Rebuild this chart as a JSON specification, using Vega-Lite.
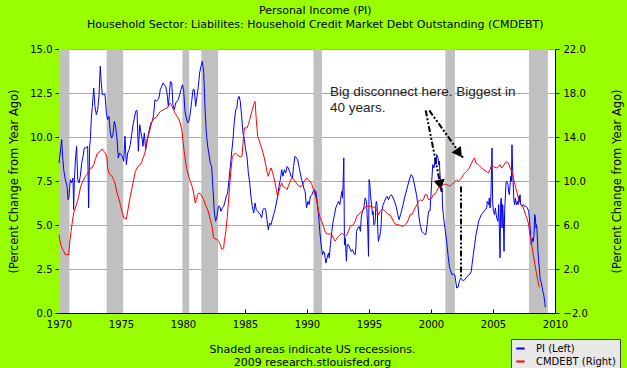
{
  "$schema": "https://vega.github.io/schema/vega-lite/v6.json",
  "width": 496,
  "height": 264,
  "autosize": {"type": "none"},
  "padding": {"left": 59, "top": 49, "right": 72, "bottom": 55},
  "background": "#99ff00",
  "config": {
    "view": {"stroke": null, "fill": "white"},
    "font": "DejaVu Sans",
    "axis": {"labelFont": "DejaVu Sans", "titleFont": "DejaVu Sans", "labelColor": "black", "titleColor": "black", "domainColor": "black", "tickColor": "black", "labelFontSize": 10, "titleFontWeight": "normal"}
  },
  "title": {
    "text": "Personal Income (PI)",
    "subtitle": "Household Sector: Liabilites: Household Credit Market Debt Outstanding (CMDEBT)",
    "font": "DejaVu Sans", "subtitleFont": "DejaVu Sans",
    "fontSize": 11, "subtitleFontSize": 11, "fontWeight": "normal",
    "color": "black", "subtitleColor": "black",
    "anchor": "middle", "frame": "bounds", "offset": 14, "subtitlePadding": 3
  },
  "datasets": {
    "rec": [
      {"s": 1970.0, "e": 1970.84},
      {"s": 1973.84, "e": 1975.18},
      {"s": 1979.95, "e": 1980.5},
      {"s": 1981.48, "e": 1982.83},
      {"s": 1990.52, "e": 1991.2},
      {"s": 2001.16, "e": 2001.93},
      {"s": 2007.9, "e": 2009.42}
    ],
    "pi": [
      {"t":1970.00,"v":8.52},{"t":1970.22,"v":9.85},{"t":1970.27,"v":9.09},{"t":1970.38,"v":8.14},{"t":1970.51,"v":7.58},{"t":1970.65,"v":7.20},{"t":1970.73,"v":6.44},{"t":1970.81,"v":6.63},{"t":1970.91,"v":7.58},{"t":1971.02,"v":7.39},{"t":1971.13,"v":7.67},{"t":1971.18,"v":5.87},{"t":1971.24,"v":7.58},{"t":1971.34,"v":8.90},{"t":1971.42,"v":9.47},{"t":1971.51,"v":7.58},{"t":1971.61,"v":7.39},{"t":1971.72,"v":7.77},{"t":1971.83,"v":8.52},{"t":1971.94,"v":8.90},{"t":1972.04,"v":9.38},{"t":1972.20,"v":9.38},{"t":1972.31,"v":9.47},{"t":1972.39,"v":5.97},{"t":1972.47,"v":9.47},{"t":1972.53,"v":9.85},{"t":1972.61,"v":11.08},{"t":1972.69,"v":11.74},{"t":1972.80,"v":12.78},{"t":1972.90,"v":11.74},{"t":1973.01,"v":11.27},{"t":1973.12,"v":11.55},{"t":1973.23,"v":12.41},{"t":1973.33,"v":14.02},{"t":1973.39,"v":13.26},{"t":1973.49,"v":12.41},{"t":1973.60,"v":12.41},{"t":1973.71,"v":12.41},{"t":1973.82,"v":11.36},{"t":1973.92,"v":10.98},{"t":1974.03,"v":11.17},{"t":1974.14,"v":10.23},{"t":1974.25,"v":9.94},{"t":1974.35,"v":10.13},{"t":1974.46,"v":10.89},{"t":1974.57,"v":10.61},{"t":1974.68,"v":9.85},{"t":1974.78,"v":8.81},{"t":1974.89,"v":9.09},{"t":1975.00,"v":9.00},{"t":1975.11,"v":8.90},{"t":1975.22,"v":8.62},{"t":1975.32,"v":10.04},{"t":1975.43,"v":8.43},{"t":1975.54,"v":9.09},{"t":1975.65,"v":9.28},{"t":1975.75,"v":9.56},{"t":1975.86,"v":10.13},{"t":1975.97,"v":10.70},{"t":1976.08,"v":11.08},{"t":1976.18,"v":11.46},{"t":1976.29,"v":11.52},{"t":1976.40,"v":9.19},{"t":1976.51,"v":10.70},{"t":1976.61,"v":10.23},{"t":1976.72,"v":9.85},{"t":1976.77,"v":9.47},{"t":1976.88,"v":10.23},{"t":1976.99,"v":9.28},{"t":1977.10,"v":9.75},{"t":1977.20,"v":10.13},{"t":1977.31,"v":10.51},{"t":1977.42,"v":10.80},{"t":1977.53,"v":10.89},{"t":1977.63,"v":11.27},{"t":1977.74,"v":12.12},{"t":1977.85,"v":12.03},{"t":1977.96,"v":12.12},{"t":1978.06,"v":12.22},{"t":1978.17,"v":12.69},{"t":1978.28,"v":12.88},{"t":1978.39,"v":13.07},{"t":1978.49,"v":12.97},{"t":1978.60,"v":12.88},{"t":1978.71,"v":12.50},{"t":1978.82,"v":11.74},{"t":1978.92,"v":12.59},{"t":1978.98,"v":13.16},{"t":1979.09,"v":13.07},{"t":1979.19,"v":11.84},{"t":1979.30,"v":11.55},{"t":1979.41,"v":11.93},{"t":1979.52,"v":12.03},{"t":1979.62,"v":12.12},{"t":1979.73,"v":12.41},{"t":1979.84,"v":12.69},{"t":1979.95,"v":12.97},{"t":1980.05,"v":12.69},{"t":1980.16,"v":11.46},{"t":1980.27,"v":11.08},{"t":1980.38,"v":10.80},{"t":1980.48,"v":10.89},{"t":1980.59,"v":11.36},{"t":1980.70,"v":12.03},{"t":1980.81,"v":12.69},{"t":1980.91,"v":12.69},{"t":1981.02,"v":11.74},{"t":1981.13,"v":12.31},{"t":1981.24,"v":12.88},{"t":1981.34,"v":13.64},{"t":1981.45,"v":14.02},{"t":1981.56,"v":14.30},{"t":1981.67,"v":13.64},{"t":1981.77,"v":11.74},{"t":1981.88,"v":10.23},{"t":1981.99,"v":9.47},{"t":1982.10,"v":9.00},{"t":1982.20,"v":8.52},{"t":1982.31,"v":8.33},{"t":1982.42,"v":7.01},{"t":1982.53,"v":5.68},{"t":1982.63,"v":5.21},{"t":1982.74,"v":5.49},{"t":1982.85,"v":6.06},{"t":1982.96,"v":6.06},{"t":1983.06,"v":5.78},{"t":1983.17,"v":5.97},{"t":1983.28,"v":6.06},{"t":1983.39,"v":6.34},{"t":1983.49,"v":6.63},{"t":1983.60,"v":6.82},{"t":1983.71,"v":7.58},{"t":1983.82,"v":8.33},{"t":1983.92,"v":9.09},{"t":1984.03,"v":9.85},{"t":1984.14,"v":10.89},{"t":1984.25,"v":11.55},{"t":1984.35,"v":11.65},{"t":1984.41,"v":12.12},{"t":1984.52,"v":12.31},{"t":1984.62,"v":12.03},{"t":1984.73,"v":11.17},{"t":1984.84,"v":10.23},{"t":1984.95,"v":9.85},{"t":1985.05,"v":9.28},{"t":1985.16,"v":8.90},{"t":1985.27,"v":7.95},{"t":1985.38,"v":7.39},{"t":1985.48,"v":6.63},{"t":1985.59,"v":6.06},{"t":1985.70,"v":5.68},{"t":1985.81,"v":6.25},{"t":1985.91,"v":5.87},{"t":1986.02,"v":5.78},{"t":1986.13,"v":5.68},{"t":1986.24,"v":5.59},{"t":1986.34,"v":5.40},{"t":1986.45,"v":5.87},{"t":1986.56,"v":5.97},{"t":1986.67,"v":5.87},{"t":1986.77,"v":5.30},{"t":1986.88,"v":4.73},{"t":1986.99,"v":5.11},{"t":1987.10,"v":5.02},{"t":1987.20,"v":5.30},{"t":1987.31,"v":5.59},{"t":1987.42,"v":5.87},{"t":1987.53,"v":6.25},{"t":1987.63,"v":6.63},{"t":1987.74,"v":7.20},{"t":1987.85,"v":7.58},{"t":1987.96,"v":8.14},{"t":1988.06,"v":7.77},{"t":1988.17,"v":8.14},{"t":1988.28,"v":7.95},{"t":1988.39,"v":8.33},{"t":1988.49,"v":8.24},{"t":1988.60,"v":8.05},{"t":1988.71,"v":7.77},{"t":1988.82,"v":7.67},{"t":1988.92,"v":8.33},{"t":1989.03,"v":8.90},{"t":1989.14,"v":8.81},{"t":1989.25,"v":8.71},{"t":1989.35,"v":8.33},{"t":1989.46,"v":7.95},{"t":1989.57,"v":7.58},{"t":1989.68,"v":7.29},{"t":1989.78,"v":7.01},{"t":1989.85,"v":6.91},{"t":1989.96,"v":5.97},{"t":1990.07,"v":6.34},{"t":1990.17,"v":6.16},{"t":1990.28,"v":6.63},{"t":1990.39,"v":6.72},{"t":1990.50,"v":6.91},{"t":1990.60,"v":7.01},{"t":1990.66,"v":6.72},{"t":1990.71,"v":6.91},{"t":1990.82,"v":6.34},{"t":1990.93,"v":5.59},{"t":1991.03,"v":4.64},{"t":1991.14,"v":3.88},{"t":1991.25,"v":3.31},{"t":1991.33,"v":3.50},{"t":1991.41,"v":3.41},{"t":1991.52,"v":2.84},{"t":1991.62,"v":3.13},{"t":1991.73,"v":3.41},{"t":1991.79,"v":3.13},{"t":1991.89,"v":3.88},{"t":1992.00,"v":4.64},{"t":1992.11,"v":5.21},{"t":1992.22,"v":5.59},{"t":1992.32,"v":5.97},{"t":1992.43,"v":6.16},{"t":1992.54,"v":6.34},{"t":1992.65,"v":6.16},{"t":1992.70,"v":6.44},{"t":1992.81,"v":6.91},{"t":1992.86,"v":6.53},{"t":1992.91,"v":7.29},{"t":1992.97,"v":8.81},{"t":1993.02,"v":3.88},{"t":1993.08,"v":4.26},{"t":1993.18,"v":2.94},{"t":1993.24,"v":3.88},{"t":1993.34,"v":3.88},{"t":1993.45,"v":3.69},{"t":1993.56,"v":3.50},{"t":1993.67,"v":3.60},{"t":1993.77,"v":3.41},{"t":1993.88,"v":3.31},{"t":1993.94,"v":3.69},{"t":1993.99,"v":4.64},{"t":1994.10,"v":4.83},{"t":1994.20,"v":4.92},{"t":1994.31,"v":4.64},{"t":1994.37,"v":5.40},{"t":1994.47,"v":5.78},{"t":1994.58,"v":5.97},{"t":1994.69,"v":6.53},{"t":1994.80,"v":6.34},{"t":1994.85,"v":5.59},{"t":1994.90,"v":4.83},{"t":1994.96,"v":3.22},{"t":1995.01,"v":7.58},{"t":1995.07,"v":7.29},{"t":1995.12,"v":6.72},{"t":1995.23,"v":5.97},{"t":1995.28,"v":5.59},{"t":1995.33,"v":5.78},{"t":1995.39,"v":5.02},{"t":1995.44,"v":5.02},{"t":1995.50,"v":5.21},{"t":1995.55,"v":6.16},{"t":1995.60,"v":6.34},{"t":1995.66,"v":6.06},{"t":1995.71,"v":4.64},{"t":1995.76,"v":4.07},{"t":1995.82,"v":4.26},{"t":1995.87,"v":4.36},{"t":1995.93,"v":4.64},{"t":1995.98,"v":5.02},{"t":1996.03,"v":5.78},{"t":1996.14,"v":6.16},{"t":1996.25,"v":6.34},{"t":1996.36,"v":6.53},{"t":1996.46,"v":6.63},{"t":1996.57,"v":6.44},{"t":1996.68,"v":6.63},{"t":1996.79,"v":6.72},{"t":1996.89,"v":6.63},{"t":1997.00,"v":6.44},{"t":1997.11,"v":6.25},{"t":1997.22,"v":5.97},{"t":1997.32,"v":5.59},{"t":1997.43,"v":5.30},{"t":1997.54,"v":5.59},{"t":1997.65,"v":5.87},{"t":1997.75,"v":6.16},{"t":1997.86,"v":6.53},{"t":1997.97,"v":6.82},{"t":1998.08,"v":7.10},{"t":1998.18,"v":7.39},{"t":1998.29,"v":7.67},{"t":1998.40,"v":7.86},{"t":1998.51,"v":7.77},{"t":1998.61,"v":7.48},{"t":1998.72,"v":7.10},{"t":1998.83,"v":6.72},{"t":1998.94,"v":6.16},{"t":1999.04,"v":5.40},{"t":1999.15,"v":4.92},{"t":1999.26,"v":4.64},{"t":1999.37,"v":4.55},{"t":1999.47,"v":4.49},{"t":1999.58,"v":4.45},{"t":1999.69,"v":5.02},{"t":1999.80,"v":5.78},{"t":1999.92,"v":5.80},{"t":2000.03,"v":7.10},{"t":2000.14,"v":8.43},{"t":2000.24,"v":8.24},{"t":2000.35,"v":8.81},{"t":2000.40,"v":8.43},{"t":2000.46,"v":9.00},{"t":2000.57,"v":8.81},{"t":2000.62,"v":8.43},{"t":2000.67,"v":8.62},{"t":2000.73,"v":7.86},{"t":2000.78,"v":7.29},{"t":2000.83,"v":6.91},{"t":2000.89,"v":7.10},{"t":2000.94,"v":5.97},{"t":2001.05,"v":5.21},{"t":2001.16,"v":4.64},{"t":2001.26,"v":4.07},{"t":2001.37,"v":3.31},{"t":2001.48,"v":2.65},{"t":2001.59,"v":2.37},{"t":2001.69,"v":2.18},{"t":2001.80,"v":2.22},{"t":2001.91,"v":2.18},{"t":2001.96,"v":1.99},{"t":2002.07,"v":1.42},{"t":2002.18,"v":1.46},{"t":2002.29,"v":1.80},{"t":2002.39,"v":1.99},{"t":2002.50,"v":1.89},{"t":2002.61,"v":1.84},{"t":2002.72,"v":1.89},{"t":2002.82,"v":1.99},{"t":2002.93,"v":2.08},{"t":2003.04,"v":2.18},{"t":2003.15,"v":2.22},{"t":2003.25,"v":2.37},{"t":2003.31,"v":2.75},{"t":2003.41,"v":3.31},{"t":2003.52,"v":3.88},{"t":2003.63,"v":4.45},{"t":2003.74,"v":4.83},{"t":2003.84,"v":5.21},{"t":2003.95,"v":5.40},{"t":2004.06,"v":5.59},{"t":2004.17,"v":5.68},{"t":2004.27,"v":5.78},{"t":2004.38,"v":5.87},{"t":2004.49,"v":5.97},{"t":2004.54,"v":6.34},{"t":2004.65,"v":6.16},{"t":2004.70,"v":6.53},{"t":2004.76,"v":5.97},{"t":2004.81,"v":6.25},{"t":2004.87,"v":7.67},{"t":2004.92,"v":9.38},{"t":2004.97,"v":6.34},{"t":2005.03,"v":5.78},{"t":2005.13,"v":5.59},{"t":2005.19,"v":5.97},{"t":2005.24,"v":5.68},{"t":2005.30,"v":5.40},{"t":2005.40,"v":5.21},{"t":2005.46,"v":6.16},{"t":2005.51,"v":4.83},{"t":2005.57,"v":3.13},{"t":2005.62,"v":6.34},{"t":2005.67,"v":6.53},{"t":2005.73,"v":4.83},{"t":2005.78,"v":6.16},{"t":2005.83,"v":5.40},{"t":2005.89,"v":3.50},{"t":2005.94,"v":5.78},{"t":2005.99,"v":6.53},{"t":2006.05,"v":7.39},{"t":2006.10,"v":7.48},{"t":2006.16,"v":7.39},{"t":2006.21,"v":7.29},{"t":2006.26,"v":6.91},{"t":2006.32,"v":6.72},{"t":2006.37,"v":7.20},{"t":2006.43,"v":7.77},{"t":2006.48,"v":7.48},{"t":2006.53,"v":9.56},{"t":2006.59,"v":8.05},{"t":2006.64,"v":7.10},{"t":2006.69,"v":6.34},{"t":2006.75,"v":6.16},{"t":2006.80,"v":6.53},{"t":2006.86,"v":6.25},{"t":2006.91,"v":6.16},{"t":2006.96,"v":6.34},{"t":2007.02,"v":6.16},{"t":2007.07,"v":6.63},{"t":2007.12,"v":6.34},{"t":2007.18,"v":6.72},{"t":2007.23,"v":6.16},{"t":2007.34,"v":6.06},{"t":2007.45,"v":6.16},{"t":2007.55,"v":6.06},{"t":2007.66,"v":6.06},{"t":2007.77,"v":5.97},{"t":2007.88,"v":5.78},{"t":2007.98,"v":5.02},{"t":2008.04,"v":4.36},{"t":2008.09,"v":3.88},{"t":2008.15,"v":4.07},{"t":2008.20,"v":4.26},{"t":2008.25,"v":4.07},{"t":2008.31,"v":4.45},{"t":2008.36,"v":5.59},{"t":2008.41,"v":5.49},{"t":2008.47,"v":4.83},{"t":2008.52,"v":5.02},{"t":2008.58,"v":4.26},{"t":2008.63,"v":3.50},{"t":2008.68,"v":2.94},{"t":2008.74,"v":2.56},{"t":2008.79,"v":1.99},{"t":2008.90,"v":1.70},{"t":2008.95,"v":1.52},{"t":2009.01,"v":1.23},{"t":2009.06,"v":1.14},{"t":2009.11,"v":0.95},{"t":2009.17,"v":0.66},{"t":2009.22,"v":0.32}
    ],
    "cm": [
      {"t":1970.00,"v":5.12},{"t":1970.11,"v":4.36},{"t":1970.24,"v":3.91},{"t":1970.38,"v":3.61},{"t":1970.51,"v":3.30},{"t":1970.78,"v":3.30},{"t":1970.86,"v":4.36},{"t":1970.97,"v":5.42},{"t":1971.08,"v":6.33},{"t":1971.18,"v":7.09},{"t":1971.32,"v":7.55},{"t":1971.45,"v":8.00},{"t":1971.59,"v":8.61},{"t":1971.72,"v":9.36},{"t":1971.85,"v":9.82},{"t":1971.99,"v":10.12},{"t":1972.12,"v":10.42},{"t":1972.26,"v":10.58},{"t":1972.39,"v":10.88},{"t":1972.53,"v":11.18},{"t":1972.66,"v":11.18},{"t":1972.80,"v":11.48},{"t":1972.93,"v":11.94},{"t":1973.06,"v":12.45},{"t":1973.20,"v":12.55},{"t":1973.33,"v":12.76},{"t":1973.47,"v":12.91},{"t":1973.60,"v":12.70},{"t":1973.74,"v":12.55},{"t":1973.87,"v":12.09},{"t":1973.92,"v":11.18},{"t":1974.03,"v":10.73},{"t":1974.14,"v":10.58},{"t":1974.27,"v":10.42},{"t":1974.41,"v":10.12},{"t":1974.54,"v":9.67},{"t":1974.68,"v":8.91},{"t":1974.81,"v":8.45},{"t":1974.95,"v":7.85},{"t":1975.08,"v":7.24},{"t":1975.22,"v":6.64},{"t":1975.43,"v":6.55},{"t":1975.54,"v":7.24},{"t":1975.65,"v":8.00},{"t":1975.75,"v":8.61},{"t":1975.89,"v":9.36},{"t":1976.02,"v":10.12},{"t":1976.16,"v":10.88},{"t":1976.29,"v":11.18},{"t":1976.42,"v":11.39},{"t":1976.56,"v":11.48},{"t":1976.69,"v":11.79},{"t":1976.83,"v":12.24},{"t":1976.96,"v":12.70},{"t":1977.10,"v":13.76},{"t":1977.23,"v":14.21},{"t":1977.37,"v":14.82},{"t":1977.50,"v":15.42},{"t":1977.63,"v":15.67},{"t":1977.77,"v":15.73},{"t":1977.90,"v":15.88},{"t":1978.04,"v":16.12},{"t":1978.17,"v":16.33},{"t":1978.31,"v":16.42},{"t":1978.44,"v":16.48},{"t":1978.58,"v":16.58},{"t":1978.71,"v":16.64},{"t":1978.84,"v":16.85},{"t":1978.98,"v":17.09},{"t":1979.11,"v":16.79},{"t":1979.25,"v":16.42},{"t":1979.38,"v":16.12},{"t":1979.52,"v":15.88},{"t":1979.65,"v":15.64},{"t":1979.78,"v":15.27},{"t":1979.92,"v":14.52},{"t":1980.00,"v":13.61},{"t":1980.11,"v":12.55},{"t":1980.22,"v":11.64},{"t":1980.32,"v":11.03},{"t":1980.46,"v":10.42},{"t":1980.59,"v":9.97},{"t":1980.73,"v":9.52},{"t":1980.86,"v":8.91},{"t":1980.99,"v":8.00},{"t":1981.08,"v":8.30},{"t":1981.18,"v":8.76},{"t":1981.29,"v":8.91},{"t":1981.40,"v":8.85},{"t":1981.53,"v":8.61},{"t":1981.67,"v":8.30},{"t":1981.80,"v":7.85},{"t":1981.94,"v":7.55},{"t":1982.07,"v":7.09},{"t":1982.20,"v":6.48},{"t":1982.34,"v":5.88},{"t":1982.47,"v":4.82},{"t":1982.74,"v":4.67},{"t":1982.88,"v":4.52},{"t":1983.01,"v":4.21},{"t":1983.15,"v":3.76},{"t":1983.28,"v":3.91},{"t":1983.33,"v":4.52},{"t":1983.44,"v":5.27},{"t":1983.55,"v":6.48},{"t":1983.66,"v":8.00},{"t":1983.76,"v":9.52},{"t":1983.87,"v":11.03},{"t":1983.98,"v":12.24},{"t":1984.22,"v":12.55},{"t":1984.35,"v":12.39},{"t":1984.62,"v":12.18},{"t":1984.76,"v":12.24},{"t":1984.84,"v":13.45},{"t":1984.95,"v":14.82},{"t":1985.16,"v":14.82},{"t":1985.27,"v":15.12},{"t":1985.38,"v":15.58},{"t":1985.48,"v":16.03},{"t":1985.59,"v":16.48},{"t":1985.70,"v":16.94},{"t":1985.81,"v":17.24},{"t":1985.91,"v":15.58},{"t":1986.02,"v":14.06},{"t":1986.13,"v":13.76},{"t":1986.24,"v":13.30},{"t":1986.34,"v":13.00},{"t":1986.45,"v":12.55},{"t":1986.56,"v":12.09},{"t":1986.67,"v":11.48},{"t":1986.77,"v":10.88},{"t":1986.88,"v":10.42},{"t":1986.99,"v":10.88},{"t":1987.10,"v":11.18},{"t":1987.20,"v":10.88},{"t":1987.31,"v":10.42},{"t":1987.42,"v":9.82},{"t":1987.53,"v":9.21},{"t":1987.63,"v":8.61},{"t":1987.74,"v":9.06},{"t":1987.85,"v":9.52},{"t":1987.96,"v":9.82},{"t":1988.06,"v":9.52},{"t":1988.28,"v":9.36},{"t":1988.39,"v":9.21},{"t":1988.49,"v":9.52},{"t":1988.60,"v":9.82},{"t":1988.71,"v":10.12},{"t":1988.82,"v":10.27},{"t":1988.92,"v":10.12},{"t":1989.14,"v":9.82},{"t":1989.35,"v":9.52},{"t":1989.57,"v":9.52},{"t":1989.78,"v":9.97},{"t":1989.98,"v":10.27},{"t":1990.12,"v":10.12},{"t":1990.25,"v":9.97},{"t":1990.39,"v":9.67},{"t":1990.52,"v":9.21},{"t":1990.66,"v":8.76},{"t":1990.79,"v":8.15},{"t":1990.93,"v":7.24},{"t":1991.06,"v":6.64},{"t":1991.19,"v":6.33},{"t":1991.33,"v":5.88},{"t":1991.46,"v":5.42},{"t":1991.60,"v":5.18},{"t":1991.87,"v":5.18},{"t":1992.00,"v":5.12},{"t":1992.13,"v":4.82},{"t":1992.27,"v":4.52},{"t":1992.40,"v":4.76},{"t":1992.54,"v":4.97},{"t":1992.67,"v":5.12},{"t":1992.81,"v":5.27},{"t":1992.94,"v":5.12},{"t":1993.08,"v":4.97},{"t":1993.21,"v":5.06},{"t":1993.34,"v":5.42},{"t":1993.48,"v":5.88},{"t":1993.75,"v":6.03},{"t":1993.88,"v":6.33},{"t":1994.02,"v":6.79},{"t":1994.15,"v":6.94},{"t":1994.29,"v":7.09},{"t":1994.42,"v":7.24},{"t":1994.55,"v":7.39},{"t":1994.69,"v":7.61},{"t":1994.82,"v":7.70},{"t":1995.23,"v":7.70},{"t":1995.36,"v":7.61},{"t":1995.50,"v":7.55},{"t":1995.63,"v":7.39},{"t":1995.76,"v":6.94},{"t":1995.90,"v":7.24},{"t":1996.03,"v":7.39},{"t":1996.17,"v":7.39},{"t":1996.30,"v":7.24},{"t":1996.44,"v":7.09},{"t":1996.57,"v":6.94},{"t":1996.70,"v":6.94},{"t":1996.84,"v":6.64},{"t":1996.97,"v":6.33},{"t":1997.11,"v":6.09},{"t":1997.24,"v":6.03},{"t":1997.38,"v":6.03},{"t":1997.51,"v":5.97},{"t":1997.65,"v":5.88},{"t":1997.78,"v":5.88},{"t":1997.91,"v":6.03},{"t":1998.05,"v":6.18},{"t":1998.18,"v":6.48},{"t":1998.32,"v":6.94},{"t":1998.45,"v":6.94},{"t":1998.59,"v":7.24},{"t":1998.72,"v":7.55},{"t":1998.86,"v":7.85},{"t":1998.99,"v":8.15},{"t":1999.12,"v":8.30},{"t":1999.26,"v":8.21},{"t":1999.39,"v":8.30},{"t":1999.53,"v":8.76},{"t":1999.66,"v":8.76},{"t":1999.80,"v":8.30},{"t":1999.93,"v":8.30},{"t":2000.05,"v":8.45},{"t":2000.19,"v":8.76},{"t":2000.32,"v":8.82},{"t":2000.46,"v":9.06},{"t":2000.59,"v":9.36},{"t":2000.73,"v":9.52},{"t":2000.86,"v":9.52},{"t":2001.00,"v":9.67},{"t":2001.13,"v":9.73},{"t":2001.26,"v":9.67},{"t":2001.40,"v":9.61},{"t":2001.53,"v":9.52},{"t":2001.67,"v":9.67},{"t":2001.80,"v":9.82},{"t":2001.94,"v":9.97},{"t":2002.07,"v":10.12},{"t":2002.20,"v":9.97},{"t":2002.34,"v":10.12},{"t":2002.47,"v":10.27},{"t":2002.61,"v":10.58},{"t":2002.74,"v":10.73},{"t":2002.88,"v":10.88},{"t":2003.01,"v":11.03},{"t":2003.15,"v":11.33},{"t":2003.28,"v":11.64},{"t":2003.41,"v":11.94},{"t":2003.50,"v":12.09},{"t":2003.63,"v":11.64},{"t":2003.82,"v":11.48},{"t":2003.95,"v":11.33},{"t":2004.09,"v":11.18},{"t":2004.22,"v":11.03},{"t":2004.36,"v":10.94},{"t":2004.49,"v":10.88},{"t":2004.62,"v":10.73},{"t":2004.76,"v":11.03},{"t":2004.89,"v":11.48},{"t":2005.03,"v":11.33},{"t":2005.16,"v":11.24},{"t":2005.30,"v":11.18},{"t":2005.43,"v":11.33},{"t":2005.57,"v":11.48},{"t":2005.70,"v":11.18},{"t":2005.83,"v":11.33},{"t":2005.97,"v":11.64},{"t":2006.10,"v":11.73},{"t":2006.24,"v":11.64},{"t":2006.37,"v":11.18},{"t":2006.51,"v":10.88},{"t":2006.64,"v":10.27},{"t":2006.77,"v":9.67},{"t":2006.91,"v":9.06},{"t":2007.04,"v":8.45},{"t":2007.18,"v":8.00},{"t":2007.31,"v":7.85},{"t":2007.45,"v":7.55},{"t":2007.58,"v":7.09},{"t":2007.72,"v":6.64},{"t":2007.85,"v":6.18},{"t":2007.98,"v":5.12},{"t":2008.12,"v":4.21},{"t":2008.25,"v":3.30},{"t":2008.39,"v":2.39},{"t":2008.52,"v":1.48},{"t":2008.66,"v":0.73},{"t":2008.74,"v":0.33}
    ],
    "arrows": [
      {"a": 1, "t": 1999.57, "v": 11.51}, {"a": 1, "t": 2000.87, "v": 6.89},
      {"a": 2, "t": 1999.86, "v": 11.51}, {"a": 2, "t": 2002.6, "v": 8.81},
      {"a": 3, "t": 2002.42, "v": 7.19}, {"a": 3, "t": 2002.42, "v": 2.0}
    ],
    "notes": [
      {"t": 1991.86, "v": 12.53, "txt": "Big disconnect here.  Biggest in"},
      {"t": 1991.86, "v": 11.63, "txt": "40 years."}
    ]
  },
  "layer": [
    {
      "layer": [
        {
          "data": {"name": "rec"},
          "mark": {"type": "rect", "color": "#c0c0c0"},
          "encoding": {
            "x": {"field": "s", "type": "quantitative",
                  "scale": {"domain": [1970, 2010], "nice": false, "zero": false, "padding": 0},
                  "axis": {"values": [1970, 1975, 1980, 1985, 1990, 1995, 2000, 2005, 2010], "format": "d", "grid": false, "tickSize": -4, "labelPadding": 10, "labelFontSize": 10, "labelFlush": false, "labelOverlap": false,
                           "title": ["Shaded areas indicate US recessions.", "2009 research.stlouisfed.org"], "titleFontSize": 11, "titleLineHeight": 13.5, "titlePadding": 14, "titleX": 253, "titleAnchor": "middle"}},
            "x2": {"field": "e"}
          }
        },
        {
          "data": {"name": "pi"},
          "mark": {"type": "line", "strokeWidth": 1},
          "encoding": {
            "x": {"field": "t", "type": "quantitative"},
            "y": {"field": "v", "type": "quantitative",
                  "scale": {"domain": [0, 15], "nice": false, "zero": false},
                  "axis": {"values": [0, 2.5, 5, 7.5, 10, 12.5, 15], "format": ".1f", "grid": true, "gridColor": "#a8a8a8", "tickSize": 4, "labelPadding": 3,
                           "title": "(Percent Change from Year Ago)", "titleFontSize": 11.5, "titleAngle": 270, "titleX": -45, "titleY": 132, "titleBaseline": "middle", "titleAlign": "center"}},
            "color": {"datum": "PI (Left)", "type": "nominal",
                      "scale": {"domain": ["PI (Left)", "CMDEBT (Right)"], "range": ["#0000ff", "#ff0000"]},
                      "legend": {"orient": "none", "legendX": 452, "legendY": 290, "title": null, "fillColor": "#e8e8e8", "strokeColor": "#444444", "padding": 4, "symbolType": "stroke", "symbolStrokeWidth": 2, "symbolSize": 70, "labelFontSize": 10, "labelFont": "DejaVu Sans", "labelColor": "black", "rowPadding": 2, "labelOffset": 10}}
          }
        },
        {
          "data": {"name": "arrows"},
          "mark": {"type": "line", "color": "black", "strokeWidth": 2, "strokeDash": [6, 2, 2, 2, 2, 2]},
          "encoding": {
            "x": {"field": "t", "type": "quantitative"},
            "y": {"field": "v", "type": "quantitative"},
            "detail": {"field": "a"}
          }
        },
        {
          "data": {"values": [{"t": 2000.73, "v": 7.29}]},
          "mark": {"type": "point", "shape": "triangle-up", "filled": true, "color": "black", "opacity": 1, "size": 130, "angle": 169},
          "encoding": {"x": {"field": "t", "type": "quantitative"}, "y": {"field": "v", "type": "quantitative"}}
        },
        {
          "data": {"values": [{"t": 2002.26, "v": 9.08}]},
          "mark": {"type": "point", "shape": "triangle-up", "filled": true, "color": "black", "opacity": 1, "size": 130, "angle": 145},
          "encoding": {"x": {"field": "t", "type": "quantitative"}, "y": {"field": "v", "type": "quantitative"}}
        },
        {
          "data": {"name": "notes"},
          "mark": {"type": "text", "align": "left", "baseline": "middle", "font": "Liberation Sans", "fontSize": 13.5, "color": "#222222"},
          "encoding": {
            "x": {"field": "t", "type": "quantitative"},
            "y": {"field": "v", "type": "quantitative"},
            "text": {"field": "txt"}
          }
        }
      ]
    },
    {
      "data": {"name": "cm"},
      "mark": {"type": "line", "strokeWidth": 1},
      "encoding": {
        "x": {"field": "t", "type": "quantitative"},
        "y": {"field": "v", "type": "quantitative",
              "scale": {"domain": [-2, 22], "nice": false, "zero": false},
              "axis": {"orient": "right", "values": [-2, 2, 6, 10, 14, 18, 22], "format": ".1f", "grid": false, "tickSize": 4, "labelPadding": 4,
                       "title": "(Percent Change from Year Ago)", "titleFontSize": 11.5, "titleAngle": 270, "titleX": 62, "titleY": 132, "titleBaseline": "middle", "titleAlign": "center"}},
        "color": {"datum": "CMDEBT (Right)", "type": "nominal"}
      }
    }
  ],
  "resolve": {"scale": {"y": "independent"}}
}
